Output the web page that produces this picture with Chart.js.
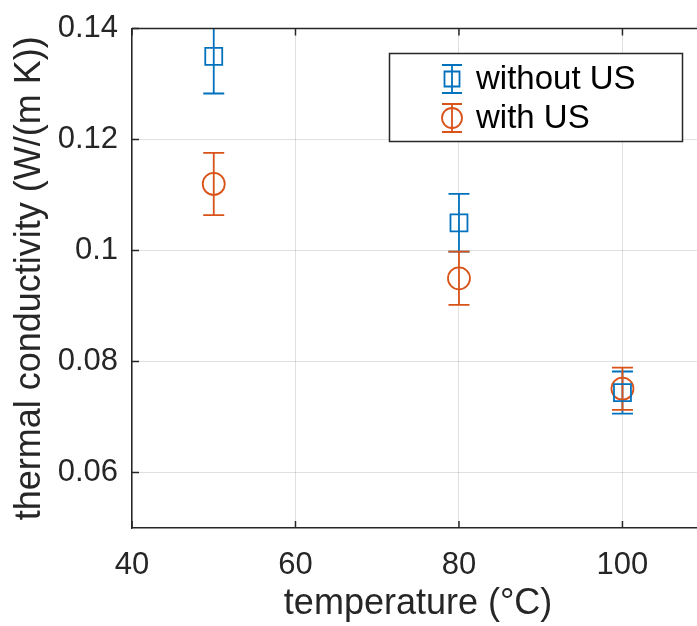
<!DOCTYPE html>
<html><head><meta charset="utf-8">
<script src="https://cdn.jsdelivr.net/npm/chart.js@4/dist/chart.umd.min.js"></script>
<style>
html,body{margin:0;padding:0;overflow:hidden;background:#fff;width:697px;height:626px}
#wrap{position:absolute;left:0;top:-4px;width:718px;height:630px}
</style>
</head><body>
<div id="wrap"><canvas id="c" width="718" height="630"></canvas></div>
<script>
// ---- data ----
const temperatures = [50, 80, 100];
const withoutUS    = [0.135, 0.105, 0.0744];
const withoutUSErr = [0.0067, 0.0052, 0.0038];
const withUS       = [0.112, 0.095, 0.0751];
const withUSErr    = [0.0056, 0.0048, 0.0038];
const xTicks = [40, 60, 80, 100];
const yTicks = [0.06, 0.08, 0.1, 0.12, 0.14];
const seriesNames = ['without US', 'with US'];
const xTitle = 'temperature (°C)';
const yTitle = 'thermal conductivity (W/(m K))';

const BLUE = '#0072BD', ORANGE = '#D95319', AX = '#262626';
const FONT = '"Liberation Sans", Arial, Helvetica, sans-serif';
const OFFY = 4; // canvas shifted up by this many px

function pts(vals, errs){ return temperatures.map((t,i)=>({x:t, y:vals[i], e:errs[i]})); }

const errorBars = {
  id:'errorBars',
  beforeDatasetsDraw(chart){
    const {ctx, chartArea:a, scales:{x,y}} = chart;
    ctx.save();
    ctx.beginPath(); ctx.rect(a.left, a.top, a.right-a.left, a.bottom-a.top); ctx.clip();
    chart.data.datasets.forEach(ds=>{
      ctx.strokeStyle = ds.borderColor; ctx.lineWidth = 1.8;
      ds.data.forEach(p=>{
        const px = x.getPixelForValue(p.x);
        const yt = y.getPixelForValue(p.y + p.e), yb = y.getPixelForValue(p.y - p.e);
        const cw = 10.5;
        ctx.beginPath();
        ctx.moveTo(px, yt); ctx.lineTo(px, yb);
        ctx.moveTo(px-cw, yt); ctx.lineTo(px+cw, yt);
        ctx.moveTo(px-cw, yb); ctx.lineTo(px+cw, yb);
        ctx.stroke();
      });
    });
    ctx.restore();
  },
  afterDraw(chart){
    const {ctx, chartArea:a, scales:{x,y}} = chart;
    ctx.save();
    ctx.strokeStyle = AX; ctx.lineWidth = 1.5;
    ctx.beginPath();
    ctx.moveTo(a.left, a.top); ctx.lineTo(a.right, a.top); ctx.lineTo(a.right, a.bottom);
    ctx.stroke();
    const tl = 7;
    ctx.beginPath();
    xTicks.forEach(v=>{ const px = x.getPixelForValue(v);
      ctx.moveTo(px, a.bottom); ctx.lineTo(px, a.bottom - tl);
      ctx.moveTo(px, a.top); ctx.lineTo(px, a.top + tl); });
    yTicks.forEach(v=>{ const py = y.getPixelForValue(v);
      ctx.moveTo(a.left, py); ctx.lineTo(a.left + tl, py);
      ctx.moveTo(a.right, py); ctx.lineTo(a.right - tl, py); });
    ctx.stroke();
    // legend (page coords + canvas offset)
    const L = 389.5, T = 53.5 + OFFY, W = 293, H = 88;
    ctx.fillStyle = '#fff'; ctx.fillRect(L, T, W, H);
    ctx.strokeStyle = AX; ctx.lineWidth = 1.5; ctx.strokeRect(L, T, W, H);
    const rows = [79 + OFFY, 118 + OFFY];
    chart.data.datasets.forEach((ds, i)=>{
      const cx = 452, cy = rows[i];
      ctx.strokeStyle = ds.borderColor; ctx.lineWidth = 1.8;
      ctx.beginPath();
      ctx.moveTo(cx, cy-14); ctx.lineTo(cx, cy+14);
      ctx.moveTo(cx-10, cy-14); ctx.lineTo(cx+10, cy-14);
      ctx.moveTo(cx-10, cy+14); ctx.lineTo(cx+10, cy+14);
      ctx.stroke();
      ctx.beginPath();
      if (ds.pointStyle === 'rect') { ctx.rect(cx-7.5, cy-7.5, 15, 15); }
      else { ctx.arc(cx, cy, 10, 0, Math.PI*2); }
      ctx.stroke();
      ctx.fillStyle = '#000'; ctx.font = '33px ' + FONT;
      ctx.textBaseline = 'middle'; ctx.textAlign = 'left';
      ctx.fillText(ds.label, 476, cy + 1);
    });
    ctx.restore();
  }
};

new Chart(document.getElementById('c'), {
  type: 'scatter',
  data: {
    datasets: [
      { label: seriesNames[0], data: pts(withoutUS, withoutUSErr), pointStyle: 'rect',
        pointRadius: 12, pointHoverRadius: 12, borderColor: BLUE, backgroundColor: 'rgba(0,0,0,0)',
        pointBorderWidth: 1.8, showLine: false },
      { label: seriesNames[1], data: pts(withUS, withUSErr), pointStyle: 'circle',
        pointRadius: 11, pointHoverRadius: 11, borderColor: ORANGE, backgroundColor: 'rgba(0,0,0,0)',
        pointBorderWidth: 1.8, showLine: false }
    ]
  },
  options: {
    responsive: false, animation: false,
    events: [],
    layout: { padding: { top: 24, right: 2, left: 0, bottom: 0 } },
    plugins: { legend: { display: false }, tooltip: { enabled: false } },
    scales: {
      x: {
        type: 'linear', min: 40, max: 110,
        afterBuildTicks: s => { s.ticks = xTicks.map(v=>({value:v})); },
        afterFit: s => { s.height = 98; },
        ticks: { callback: v => String(v), color: AX, padding: 19, maxRotation: 0,
                 font: { family: FONT, size: 31 } },
        grid: { color: 'rgba(38,38,38,0.14)', lineWidth: 1, drawTicks: false },
        border: { color: AX, width: 1.5 },
        title: { display: true, text: xTitle, color: AX, padding: { top: 0, bottom: 0 },
                 font: { family: FONT, size: 36 } }
      },
      y: {
        type: 'linear', min: 0.05, max: 0.14,
        afterBuildTicks: s => { s.ticks = yTicks.map(v=>({value:v})); },
        afterFit: s => { s.width = 132; },
        ticks: { callback: v => String(v), color: AX, padding: 14,
                 font: { family: FONT, size: 31 } },
        grid: { color: 'rgba(38,38,38,0.14)', lineWidth: 1, drawTicks: false },
        border: { color: AX, width: 1.5 },
        title: { display: true, text: yTitle, color: AX, padding: { top: 8, bottom: 0 },
                 font: { family: FONT, size: 36 } }
      }
    }
  },
  plugins: [errorBars]
});
</script>
</body></html>
